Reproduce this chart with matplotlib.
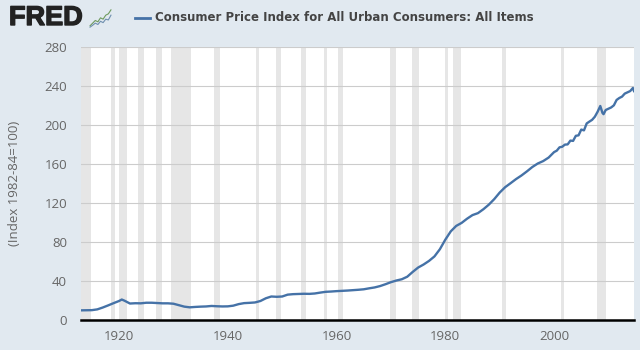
import matplotlib
matplotlib.use("Agg")
import matplotlib.pyplot as plt
import matplotlib.patheffects as pe
from matplotlib.lines import Line2D

# CPI values
years = [1913, 1914, 1915, 1916, 1917, 1918, 1919, 1920, 1920.5, 1921, 1922, 1923, 1924, 1925, 1926,
         1927, 1928, 1929, 1930, 1931, 1932, 1933, 1934, 1935, 1936, 1937, 1938, 1939, 1940, 1941,
         1942, 1943, 1944, 1945, 1946, 1947, 1948, 1949, 1950, 1951, 1952, 1953, 1954, 1955, 1956,
         1957, 1958, 1959, 1960, 1961, 1962, 1963, 1964, 1965, 1966, 1967, 1968, 1969, 1970, 1971,
         1972, 1973, 1974, 1975, 1976, 1977, 1978, 1979, 1980, 1981, 1982, 1983, 1984, 1985, 1986,
         1987, 1988, 1989, 1990, 1991, 1992, 1993, 1994, 1995, 1996, 1997, 1998, 1999, 2000, 2000.5,
         2001, 2001.5, 2002, 2002.5, 2003, 2003.5, 2004, 2004.5, 2005, 2005.5, 2006, 2006.5, 2007,
         2007.5, 2008, 2008.5, 2008.9, 2009.1, 2009.5, 2010, 2010.5, 2011, 2011.5, 2012, 2012.5,
         2013, 2013.5, 2014, 2014.5, 2014.7]
cpi = [9.9, 10.0, 10.1, 10.9, 12.8, 15.0, 17.3, 19.5, 21.0, 19.8, 16.9, 17.2, 17.1, 17.7, 17.7,
       17.4, 17.1, 17.1, 16.7, 15.2, 13.7, 13.0, 13.4, 13.7, 13.9, 14.4, 14.1, 13.9, 14.0, 14.7,
       16.3, 17.3, 17.6, 18.0, 19.5, 22.3, 24.1, 23.8, 24.1, 26.0, 26.5, 26.7, 26.9, 26.8, 27.2,
       28.1, 28.9, 29.2, 29.6, 29.9, 30.2, 30.6, 31.0, 31.5, 32.5, 33.4, 34.8, 36.7, 38.8, 40.5,
       41.8, 44.4, 49.3, 53.8, 56.9, 60.6, 65.2, 72.6, 82.4, 90.9, 96.5, 99.6, 103.9, 107.6, 109.6,
       113.6, 118.3, 124.0, 130.7, 136.2, 140.3, 144.5, 148.2, 152.4, 156.9, 160.5, 163.0, 166.6, 172.2, 173.7,
       177.1, 177.7, 179.9, 180.1, 184.0, 183.7, 188.9, 189.4, 195.3, 194.5, 201.6, 203.5, 205.3,
       208.5, 213.5, 219.5, 212.4, 211.1, 215.4, 216.7, 218.0, 220.2, 225.7, 227.7, 229.1,
       232.2, 233.5, 234.8, 238.0, 234.8]

rec_start = [1913.0, 1918.6, 1920.0, 1923.4, 1926.8, 1929.6, 1937.4, 1945.1, 1948.9, 1953.5,
             1957.6, 1960.3, 1969.9, 1973.9, 1980.0, 1981.5, 1990.5, 2001.2, 2007.9]
rec_end = [1914.9, 1919.2, 1921.5, 1924.5, 1927.9, 1933.2, 1938.5, 1945.8, 1949.8, 1954.4,
           1958.3, 1961.1, 1970.9, 1975.2, 1980.5, 1982.9, 1991.2, 2001.9, 2009.5]

x_ticks = [1920, 1940, 1960, 1980, 2000]
y_ticks = [0, 40, 80, 120, 160, 200, 240, 280]
title = "Consumer Price Index for All Urban Consumers: All Items"
y_label = "(Index 1982-84=100)"

# little chart in the logo
logo_x = [0, 1, 2, 3, 4, 5, 6, 7, 8]
logo_y1 = [1, 2, 3, 2.5, 4, 3.5, 5, 5.5, 7]
logo_y2 = [0.5, 1.2, 2, 1.5, 2.7, 2.2, 3.5, 3.2, 5]

bg = "#E1E9F0"
text_col = "#666666"
line_col = "#4572A7"

plt.rcParams["font.family"] = "Open Sans"

fig = plt.figure(figsize=(6.4, 3.5), dpi=100, facecolor=bg)
ax = fig.add_axes([81 / 640, 1 - 320 / 350, 553 / 640, 273 / 350])

for s, e in zip(rec_start, rec_end):
    ax.axvspan(s, e, color="#E6E6E6", lw=0, zorder=1)
ax.plot(years, cpi, color=line_col, lw=1.7, zorder=3, solid_joinstyle="round")

ax.set_xlim(1913, 2014.7)
ax.set_ylim(0, 280)
ax.set_xticks(x_ticks)
ax.set_yticks(y_ticks)
ax.grid(axis="y", color="#CCCCCC", lw=0.8, zorder=2)
ax.xaxis.grid(False)
for side in ["top", "right", "left"]:
    ax.spines[side].set_visible(False)
ax.spines["bottom"].set_color("black")
ax.spines["bottom"].set_linewidth(1.8)
ax.spines["bottom"].set_zorder(5)
ax.tick_params(axis="x", length=0, labelsize=9.5, labelcolor=text_col, pad=7)
ax.tick_params(axis="y", length=0, labelsize=9.5, labelcolor=text_col, pad=10)
ax.set_ylabel(y_label, fontsize=9.5, color=text_col)
ax.yaxis.set_label_coords(-0.109, 0.5)

# header
fred = fig.text(9 / 640, 1 - 18 / 350, "FRED", fontsize=19.5, fontweight="bold", color="#222222",
                va="center", ha="left", family="Liberation Sans")
fred.set_path_effects([pe.withStroke(linewidth=1, foreground="#222222")])
logo = fig.add_axes([89 / 640, 1 - 28 / 350, 23 / 640, 19 / 350])
logo.plot(logo_x, logo_y1, color="#6E9A5E", lw=0.8)
logo.plot(logo_x, logo_y2, color="#6F8FAF", lw=0.8)
logo.axis("off")
fig.add_artist(Line2D([135 / 640, 150 / 640], [1 - 18 / 350, 1 - 18 / 350], color=line_col, lw=2))
fig.text(155 / 640, 1 - 17.5 / 350, title, fontsize=8.5, fontweight="bold", color="#444444",
         va="center", ha="left", family="DejaVu Sans")

fig.savefig("out.png", dpi=100, facecolor=bg)
